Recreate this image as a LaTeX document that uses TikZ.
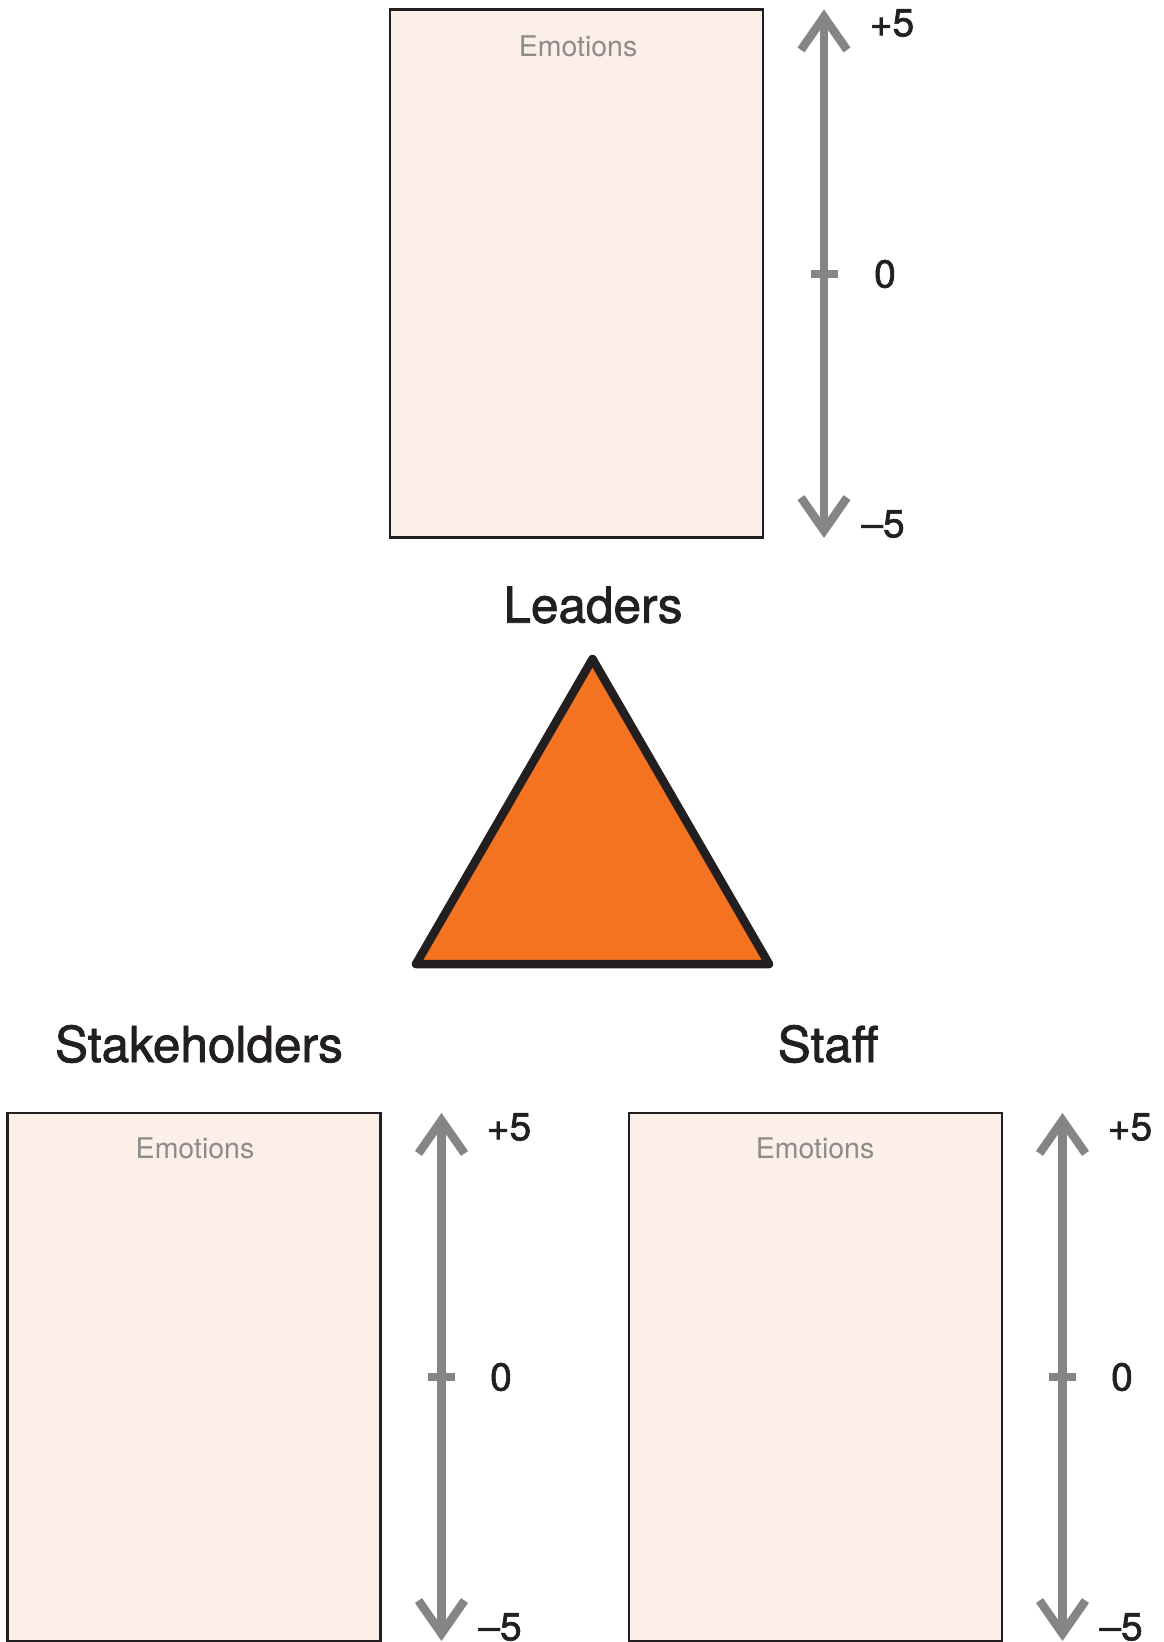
\documentclass[tikz,border=0pt]{standalone}
\usepackage{fontspec}
\setmainfont{TeX Gyre Heros}
\newfontfamily\medfont{TeX Gyre Heros}[FakeBold=1.6]
\usetikzlibrary{arrows.meta}
\definecolor{ink}{HTML}{231F20}
\definecolor{axisgray}{HTML}{858585}
\definecolor{emogray}{HTML}{8C8C8C}
\definecolor{peach}{HTML}{FCEFE7}
\definecolor{tri}{HTML}{F37321}
\tikzset{
  ebox/.style={draw=ink, line width=2.5pt, fill=peach, minimum width=373pt, minimum height=528pt, inner sep=0pt},
  emo/.style={text=emogray, font=\fontsize{28.5}{32}\selectfont, inner sep=0pt},
  axisline/.style={draw=axisgray, line width=8.5pt, {Straight Barb[length=33pt,width=46pt]}-{Straight Barb[length=33pt,width=46pt]}},
  tickmark/.style={draw=axisgray, line width=8pt},
  num/.style={text=ink, font=\medfont\fontsize{39}{42}\selectfont, inner sep=0pt},
  group/.style={text=ink, font=\medfont\fontsize{49.5}{54}\selectfont, inner sep=0pt},
  triangle/.style={draw=ink, fill=tri, line width=8.5pt, line join=round}
}
\begin{document}
\begin{tikzpicture}[x=1pt,y=-1pt]
\useasboundingbox (0,0) rectangle (1164,1642);

% ---------- Leaders gauge (top) ----------
\node[ebox] (boxL) at (576.5,273.7) {};
\node[emo] (emoL) at (578,46) {Emotions};
\coordinate (topL) at (824,9.5);
\coordinate (botL) at (824,538);
\draw[axisline] (topL) -- (botL);
\coordinate (tkLa) at (810.5,273.5);
\coordinate (tkLb) at (837.5,273.5);
\draw[tickmark] (tkLa) -- (tkLb);
\node[num] (pL) at (892,23) {+5};
\node[num] (zL) at (885,274) {0};
\node[num] (mL) at (883,524) {–5};

% ---------- Leaders label and triangle ----------
\node[group] (leaders) at (593,605) {Leaders};
\coordinate (apex) at (592.5,659);
\coordinate (bright) at (769,964);
\coordinate (bleft) at (416,964);
\draw[triangle] (apex) -- (bright) -- (bleft) -- cycle;

\node[group] (stake) at (199,1044) {Stakeholders};
\node[group] (staff) at (828,1044) {Staff};

% ---------- Stakeholders gauge ----------
\node[ebox] (boxS) at (194.2,1377) {};
\node[emo] (emoS) at (195,1148) {Emotions};
\coordinate (topS) at (441.5,1113);
\coordinate (botS) at (441.5,1641);
\draw[axisline] (topS) -- (botS);
\coordinate (tkSa) at (428,1376.5);
\coordinate (tkSb) at (455,1376.5);
\draw[tickmark] (tkSa) -- (tkSb);
\node[num] (pS) at (509,1127) {+5};
\node[num] (zS) at (501,1377) {0};
\node[num] (mS) at (500,1627) {–5};

% ---------- Staff gauge ----------
\node[ebox] (boxT) at (815.5,1377) {};
\node[emo] (emoT) at (815,1148) {Emotions};
\coordinate (topT) at (1062.5,1113);
\coordinate (botT) at (1062.5,1641);
\draw[axisline] (topT) -- (botT);
\coordinate (tkTa) at (1049,1376.5);
\coordinate (tkTb) at (1076,1376.5);
\draw[tickmark] (tkTa) -- (tkTb);
\node[num] (pT) at (1130,1127) {+5};
\node[num] (zT) at (1122,1377) {0};
\node[num] (mT) at (1121,1627) {–5};
\end{tikzpicture}
\end{document}
